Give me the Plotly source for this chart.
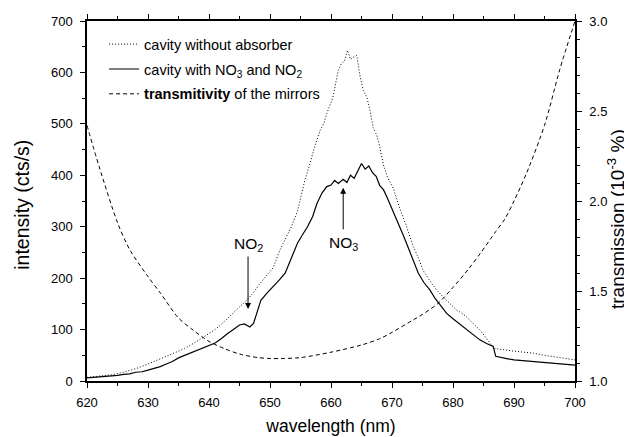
import plotly.graph_objects as go

# ---------------- data ----------------
wl_free = [620, 622, 624, 626, 628, 630, 632, 634, 636, 638,
           640, 641, 642, 643, 644, 645, 646.2, 647.3, 648.4, 649.5,
           650.5, 651.6, 652.5, 653.5, 654.5, 655.7, 656.5, 657.3, 658.2, 658.8,
           659.3, 660.3, 661.2, 661.7, 662.2, 662.7, 663.2, 663.6, 664.2, 664.8,
           665.3, 665.9, 666.4, 666.9, 667.5, 668, 668.6, 669.3, 670.2, 671.3,
           672.4, 673.5, 674.3, 675.1, 676.2, 677.3, 678.5, 679.5, 680.6, 681.4,
           682.2, 683.3, 684.4, 685.3, 686.1, 686.9, 687.8, 688.8, 690, 691.5,
           693.2, 695, 697, 698.5, 700]
int_free = [7, 9, 12, 17, 24, 33, 43, 53, 63, 77,
            92, 100, 110, 122, 132, 144, 157, 172, 190, 205,
            220, 254, 275, 300, 330, 390, 420, 455, 487, 500,
            520, 551, 604, 617, 622, 643, 625, 629, 633, 590,
            565, 551, 526, 493, 478, 455, 420, 395, 375, 335,
            300, 261, 240, 215, 195, 177, 162, 150, 138, 132,
            125, 112, 99, 86, 73, 63, 62, 60, 58, 56,
            54, 50, 46, 43, 41]

wl_abs = [620, 621, 622, 623, 624, 625, 626, 627, 628, 629,
          630, 631, 632, 633, 634, 635, 636, 637, 638, 639,
          640, 641, 642, 643, 644, 645, 645.8, 646.7, 647.3, 648,
          648.5, 649.5, 650.5, 651.5, 652.5, 653.2, 653.8, 654.5, 655.2, 656.1,
          657, 657.7, 658.5, 659.3, 660, 660.6, 661.2, 662, 662.6, 663.2,
          663.8, 664.4, 665, 665.6, 666.2, 666.8, 667.4, 668, 668.6, 669.2,
          670.2, 671, 671.9, 672.7, 673.5, 674.3, 675.2, 676.2, 677.1, 678,
          679, 680, 681, 681.7, 682.5, 683.5, 684.4, 685.5, 686.6, 687,
          688, 689, 690, 691, 692, 693, 694, 695, 696, 697,
          698, 699, 700]
int_abs = [6, 7, 8, 8, 10, 11, 13, 14, 17, 18,
           21, 24, 28, 33, 38, 45, 50, 55, 60, 65,
           70, 74, 82, 92, 100, 109, 111, 105, 112, 140,
           157, 171, 183, 196, 210, 230, 250, 268, 282, 299,
           320, 345, 365, 378, 381, 390, 384, 392, 386, 400,
           394, 410, 423, 412, 418, 405, 398, 380, 372, 357,
           330, 305, 282, 258, 232, 210, 192, 177, 160, 146,
           131, 121, 112, 105, 98, 89, 80, 73, 67, 48,
           45, 43, 41, 40, 39, 38, 37, 36, 35, 34,
           33, 32, 31]

wl_mirror = [620, 622, 625, 627, 630, 632, 635, 637.5, 640, 642.5,
             645, 648, 650, 652, 655, 660, 665, 668, 670, 673.5,
             675, 677.5, 680, 682.5, 684.5, 687, 688.5, 690, 692, 695,
             697.5, 700]
trans_mirror = [2.42, 2.19, 1.88, 1.73, 1.58, 1.49, 1.35, 1.28, 1.22, 1.18,
                1.15, 1.13, 1.125, 1.125, 1.13, 1.16, 1.20, 1.235, 1.27, 1.34,
                1.37, 1.43, 1.52, 1.62, 1.71, 1.83, 1.90, 2.0, 2.15, 2.42,
                2.73, 3.0]

x_ticks = [620, 630, 640, 650, 660, 670, 680, 690, 700]
y_ticks = [0, 100, 200, 300, 400, 500, 600, 700]
y2_ticks = [1.0, 1.5, 2.0, 2.5, 3.0]

FONT = "Arial, Liberation Sans, sans-serif"

fig = go.Figure()
fig.add_trace(go.Scatter(
    x=wl_free, y=int_free, mode="lines", name="cavity without absorber",
    line=dict(color="black", width=1, dash="1px,2px"), legendgroup="a"))
fig.add_trace(go.Scatter(
    x=wl_abs, y=int_abs, mode="lines",
    name="cavity with NO<sub>3</sub> and NO<sub>2</sub>",
    line=dict(color="black", width=1.2), legendgroup="b"))
fig.add_trace(go.Scatter(
    x=wl_mirror, y=trans_mirror, mode="lines", yaxis="y2",
    name="<b>transmitivity</b> of the mirrors",
    line=dict(color="black", width=1, dash="4px,3px", shape="spline", smoothing=0.8),
    legendgroup="c"))

axis_common = dict(showline=True, linecolor="black", linewidth=1.5,
                   ticks="outside", ticklen=5, tickwidth=1.2, tickcolor="black",
                   showgrid=False, zeroline=False, automargin=False,
                   tickfont=dict(family=FONT, size=13, color="black"))

# the page body adds an 8 px offset, so the figure is 8 px smaller than the window
fig.update_layout(
    width=624, height=429,
    margin=dict(l=79, r=57, t=13, b=56),
    paper_bgcolor="white", plot_bgcolor="white",
    font=dict(family=FONT, size=13, color="black"),
    showlegend=True,
    legend=dict(x=0.035, y=0.98, xanchor="left", yanchor="top",
                bgcolor="rgba(0,0,0,0)", font=dict(family=FONT, size=14.5),
                traceorder="grouped", tracegroupgap=3),
    xaxis=dict(range=[620, 700], tickvals=x_ticks, mirror="ticks",
               minor=dict(dtick=5, ticklen=3, tickwidth=1.2, tickcolor="black", ticks="outside"),
               title=dict(text="wavelength (nm)", font=dict(family=FONT, size=17.5), standoff=10),
               ticklabelstandoff=4,
               **axis_common),
    yaxis=dict(range=[0, 700], tickvals=y_ticks,
               minor=dict(dtick=50, ticklen=3, tickwidth=1.2, tickcolor="black", ticks="outside"),
               ticklabelstandoff=5,
               **axis_common),
    yaxis2=dict(range=[1.0, 3.0], tickvals=y2_ticks, tickformat=".1f",
                overlaying="y", side="right",
                minor=dict(dtick=0.1, ticklen=3, tickwidth=1.2, tickcolor="black", ticks="outside"),
                ticklabelstandoff=5,
                **axis_common),
)

# axis titles for the two value axes
fig.add_annotation(xref="paper", yref="paper", x=-0.135, y=0.49,
                   text="intensity (cts/s)", textangle=-90, showarrow=False,
                   xanchor="center", yanchor="middle",
                   font=dict(family=FONT, size=19.5, color="black"))
fig.add_annotation(xref="paper", yref="paper", x=1.084, y=0.45,
                   text="transmission (10<sup>-3</sup> %)", textangle=-90, showarrow=False,
                   xanchor="center", yanchor="middle",
                   font=dict(family=FONT, size=19, color="black"))

# annotations: labels and arrows
fig.add_annotation(x=646.4, y=266, text="NO<sub>2</sub>", showarrow=False,
                   font=dict(family=FONT, size=15.5, color="black"))
fig.add_annotation(x=646.4, y=140, ax=646.4, ay=245, axref="x", ayref="y",
                   text="", showarrow=True, arrowhead=2, arrowsize=1.2, arrowwidth=1,
                   arrowcolor="black")
fig.add_annotation(x=662.0, y=268, text="NO<sub>3</sub>", showarrow=False,
                   font=dict(family=FONT, size=15.5, color="black"))
fig.add_annotation(x=662.0, y=376, ax=662.0, ay=292, axref="x", ayref="y",
                   text="", showarrow=True, arrowhead=2, arrowsize=1.2, arrowwidth=1,
                   arrowcolor="black")

fig.write_html("out.html")
